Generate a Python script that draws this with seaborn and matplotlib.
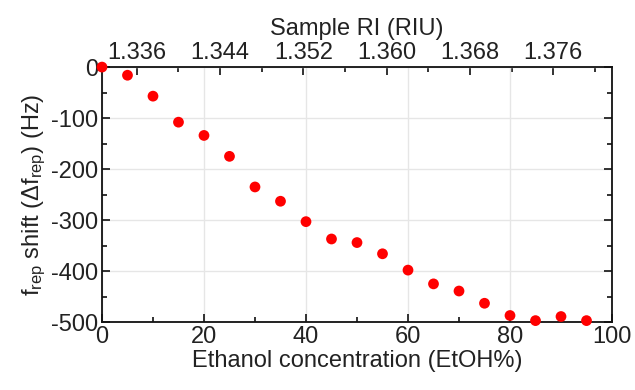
import matplotlib
matplotlib.use("Agg")
import matplotlib.pyplot as plt
import seaborn as sns
import pandas as pd
import numpy as np
from matplotlib.ticker import MultipleLocator

# Data
ethanol = [0, 5, 10, 15, 20, 25, 30, 35, 40, 45, 50, 55, 60, 65, 70, 75, 80, 85, 90, 95]
shift_hz = [0, -16, -57, -108, -134, -175, -235, -263, -303, -337, -344, -366,
            -398, -425, -439, -463, -487, -497, -489, -497]
ri_ticks = [1.336, 1.344, 1.352, 1.360, 1.368, 1.376]
ri_intercept = 1.33267
ri_slope = 0.0004896

sns.set_theme(style="white")
plt.rcParams['font.family'] = ['Liberation Sans', 'DejaVu Sans']
plt.rcParams['mathtext.fontset'] = 'custom'
plt.rcParams['mathtext.rm'] = 'Liberation Sans'
plt.rcParams['mathtext.it'] = 'Liberation Sans'
plt.rcParams['axes.unicode_minus'] = False

df = pd.DataFrame({"x": ethanol, "y": shift_hz})

fig = plt.figure(figsize=(6.35, 3.9), dpi=100)
ax = fig.add_axes([0.1606, 0.174, 0.8032, 0.654])

ax.grid(True, color="#e6e6e6", linewidth=1.0)
ax.set_axisbelow(True)
sns.scatterplot(data=df, x="x", y="y", ax=ax, color="#ff0000", s=60,
                edgecolor="none", clip_on=False, zorder=5)

ax.set_xlim(0, 100)
ax.set_ylim(-500, 0)
ax.xaxis.set_major_locator(MultipleLocator(20))
ax.xaxis.set_minor_locator(MultipleLocator(10))
ax.yaxis.set_major_locator(MultipleLocator(100))
ax.yaxis.set_minor_locator(MultipleLocator(50))

fs = 17
ax.tick_params(axis="both", which="both", direction="in", labelsize=fs,
               colors="#222222", width=1.3)
ax.tick_params(axis="both", which="major", length=6, pad=3)
ax.tick_params(axis="both", which="minor", length=3.5)
ax.tick_params(axis="y", which="both", right=True, left=True)
ax.tick_params(axis="x", which="both", top=False, bottom=True)

for s in ax.spines.values():
    s.set_color("#111111")
    s.set_linewidth(1.3)

ax.set_xlabel("Ethanol concentration (EtOH%)", fontsize=fs, color="#222222", labelpad=1)
ax.set_ylabel(r"f$_{\rm rep}$ shift ($\Delta$f$_{\rm rep}$) (Hz)", fontsize=fs,
              color="#222222", labelpad=2)

def x2ri(x):
    return ri_intercept + ri_slope * np.asarray(x)

def ri2x(r):
    return (np.asarray(r) - ri_intercept) / ri_slope

top = ax.secondary_xaxis("top", functions=(x2ri, ri2x))
top.set_xticks(ri_ticks)
top.set_xticklabels([f"{v:.3f}" for v in ri_ticks])
top.xaxis.set_minor_locator(MultipleLocator(0.004))
top.tick_params(axis="x", which="both", direction="in", labelsize=fs,
                colors="#222222", width=1.3)
top.tick_params(which="major", length=6, pad=2)
top.tick_params(which="minor", length=3.5)
top.set_xlabel("Sample RI (RIU)", fontsize=fs, color="#222222", labelpad=5)
top.spines["top"].set_visible(False)

fig.savefig("out.png", dpi=100)
